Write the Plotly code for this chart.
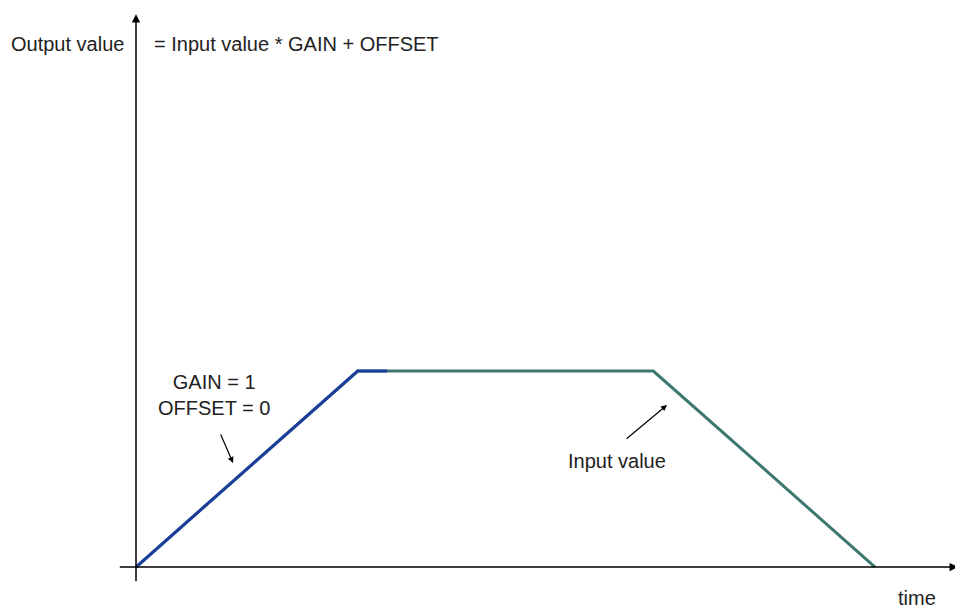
import plotly.graph_objects as go

# time / value points of the input signal and of the output (GAIN = 1, OFFSET = 0)
input_time = [0, 3, 7, 10]
input_value = [0, 1, 1, 0]
output_time = [0, 3, 3.4]
output_value = [0, 1, 1]

font = dict(family="Liberation Sans, Arial, sans-serif", size=20, color="#222222")

fig = go.Figure()
fig.add_trace(go.Scatter(x=input_time, y=input_value, mode="lines",
                         line=dict(color="#3c7870", width=3), hoverinfo="skip"))
fig.add_trace(go.Scatter(x=output_time, y=output_value, mode="lines",
                         line=dict(color="#1c3f9e", width=3), hoverinfo="skip"))

# axes drawn as arrows
fig.add_annotation(x=0, y=2.82, ax=0, ay=-0.08, xref="x", yref="y", axref="x", ayref="y",
                   text="", showarrow=True, arrowhead=2, arrowsize=1.1, arrowwidth=1.5,
                   arrowcolor="black")
fig.add_annotation(x=11.12, y=0, ax=-0.24, ay=0, xref="x", yref="y", axref="x", ayref="y",
                   text="", showarrow=True, arrowhead=2, arrowsize=1.1, arrowwidth=1.5,
                   arrowcolor="black")

fig.add_annotation(x=-0.93, y=2.668, text="Output value", showarrow=False, font=font)
fig.add_annotation(x=0.217, y=2.668, text="= Input value * GAIN + OFFSET", showarrow=False,
                   xanchor="left", font=font)
fig.add_annotation(x=1.06, y=0.878, text="GAIN = 1<br>OFFSET = 0", showarrow=False, font=font)
fig.add_annotation(x=1.313, y=0.531, ax=1.137, ay=0.684, xref="x", yref="y", axref="x", ayref="y",
                   text="", showarrow=True, arrowhead=2, arrowwidth=1.2, arrowcolor="black")
fig.add_annotation(x=6.51, y=0.541, text="Input value", showarrow=False, font=font)
fig.add_annotation(x=7.185, y=0.827, ax=6.617, ay=0.648, xref="x", yref="y", axref="x", ayref="y",
                   text="", showarrow=True, arrowhead=2, arrowwidth=1.2, arrowcolor="black")
fig.add_annotation(x=10.57, y=-0.158, text="time", showarrow=False, font=font)

# page body adds an 8px offset, so the figure is 8px smaller and ranges start 8px in
fig.update_xaxes(range=[-1.732, 11.19], visible=False)
fig.update_yaxes(range=[-0.209, 2.852], visible=False)
fig.update_layout(width=955, height=600, margin=dict(l=0, r=0, t=0, b=0),
                  plot_bgcolor="white", paper_bgcolor="white", showlegend=False)

fig.write_html("out.html")
